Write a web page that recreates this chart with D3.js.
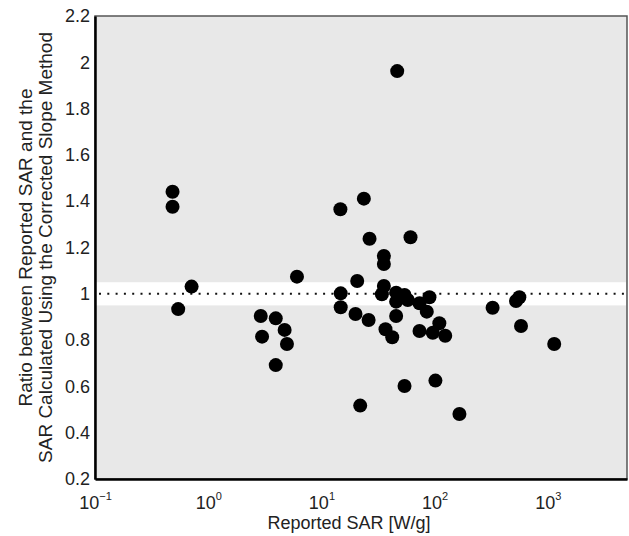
<!DOCTYPE html>
<html>
<head>
<meta charset="utf-8">
<script src="https://cdn.jsdelivr.net/npm/d3@7"></script>
<style>
  body { margin: 0; background: #fff; }
  svg text { font-family: "Liberation Sans", Arial, sans-serif; fill: #222; }
</style>
</head>
<body>
<svg id="chart"></svg>
<script>
// Reported SAR [W/g] and ratio values
const sarValues = [
  0.484, 0.484, 0.713, 0.543, 6.08,
  2.91, 3.95, 4.73, 2.99, 4.96, 3.95,
  46.7, 23.7, 14.7, 26.6, 61.2, 35.6, 35.6,
  20.7, 14.8, 35.6, 34.2, 45.7, 54.2, 45.7, 57.9, 90, 73.5, 85.2,
  14.8, 20.0, 26.1, 45.7, 36.8, 42.2, 73.5, 96.2, 110, 124,
  325, 523, 560, 579, 1138,
  22.0, 54.2, 101.6, 165.5
];
const ratioValues = [
  1.441, 1.376, 1.031, 0.934, 1.074,
  0.904, 0.894, 0.844, 0.815, 0.783, 0.692,
  1.962, 1.411, 1.365, 1.238, 1.244, 1.163, 1.129,
  1.055, 1.002, 1.034, 0.998, 1.005, 0.995, 0.966, 0.973, 0.985, 0.959, 0.923,
  0.942, 0.913, 0.887, 0.904, 0.847, 0.812, 0.839, 0.832, 0.873, 0.819,
  0.940, 0.969, 0.985, 0.861, 0.783,
  0.517, 0.602, 0.625, 0.481
];
const xTickValues = [0.1, 1, 10, 100, 1000];
const xTickExponents = ['\u22121', '0', '1', '2', '3'];
const yTickValues = [0.2, 0.4, 0.6, 0.8, 1, 1.2, 1.4, 1.6, 1.8, 2, 2.2];
const xDomain = [0.1, 5000];
const yDomain = [0.2, 2.2];
const bandRange = [0.95, 1.05];
const refValue = 1;

const width = 629, height = 536;
const margin = { top: 16, right: 2, bottom: 57, left: 95 };
const innerW = width - margin.left - margin.right;
const innerH = height - margin.top - margin.bottom;

const points = sarValues.map((v, i) => ({ sar: v, ratio: ratioValues[i] }));

const svg = d3.select('#chart')
  .attr('width', width)
  .attr('height', height);

const g = svg.append('g')
  .attr('transform', `translate(${margin.left},${margin.top})`);

const x = d3.scaleLog().domain(xDomain).range([0, innerW]);
const y = d3.scaleLinear().domain(yDomain).range([innerH, 0]);

// Plot background and frame
g.append('rect')
  .attr('width', innerW)
  .attr('height', innerH)
  .attr('fill', '#e8e8e8')
  .attr('stroke', '#555')
  .attr('stroke-width', 1.5);

// White band around ratio 1
g.append('rect')
  .attr('x', 1)
  .attr('width', innerW - 2)
  .attr('y', y(bandRange[1]))
  .attr('height', y(bandRange[0]) - y(bandRange[1]))
  .attr('fill', '#fff');

// Dotted reference line
g.append('line')
  .attr('x1', 4)
  .attr('x2', innerW)
  .attr('y1', y(refValue))
  .attr('y2', y(refValue))
  .attr('stroke', '#111')
  .attr('stroke-width', 2)
  .attr('stroke-dasharray', '2,6.3');

// Points
g.selectAll('.point')
  .data(points)
  .join('circle')
  .attr('class', 'point')
  .attr('cx', d => x(d.sar))
  .attr('cy', d => y(d.ratio))
  .attr('r', 7)
  .attr('fill', '#000');

// Y axis
const yAxisG = g.append('g')
  .call(d3.axisLeft(y).tickValues(yTickValues).tickSize(0).tickPadding(5).tickFormat(d3.format('~g')));
yAxisG.select('.domain').attr('stroke', '#000').attr('stroke-width', 2.5);
yAxisG.selectAll('text')
  .style('font-size', '18px')
  .attr('fill', '#222');

// X axis
const xAxisG = g.append('g')
  .attr('transform', `translate(0,${innerH})`)
  .call(d3.axisBottom(x).tickValues(xTickValues).tickSize(0).tickFormat(''));
xAxisG.select('.domain').attr('stroke', '#000').attr('stroke-width', 2.5);
xAxisG.selectAll('.tick').each(function(d, i) {
  const t = d3.select(this).append('text')
    .attr('y', 30)
    .attr('text-anchor', 'middle')
    .attr('fill', '#222')
    .style('font-size', '18px');
  t.append('tspan').text('10');
  t.append('tspan')
    .attr('dy', -9)
    .style('font-size', '11px')
    .text(xTickExponents[i]);
});

// Axis titles
svg.append('text')
  .attr('x', 349)
  .attr('y', 529)
  .attr('text-anchor', 'middle')
  .style('font-size', '18px')
  .text('Reported SAR [W/g]');

const yTitle = svg.append('text')
  .attr('transform', `translate(32,${margin.top + innerH / 2}) rotate(-90)`)
  .attr('text-anchor', 'middle')
  .style('font-size', '19px');
yTitle.append('tspan').attr('x', 0).attr('dy', 0).text('Ratio between Reported SAR and the');
yTitle.append('tspan').attr('x', 0).attr('dy', 20).text('SAR Calculated Using the Corrected Slope Method');
</script>
</body>
</html>
